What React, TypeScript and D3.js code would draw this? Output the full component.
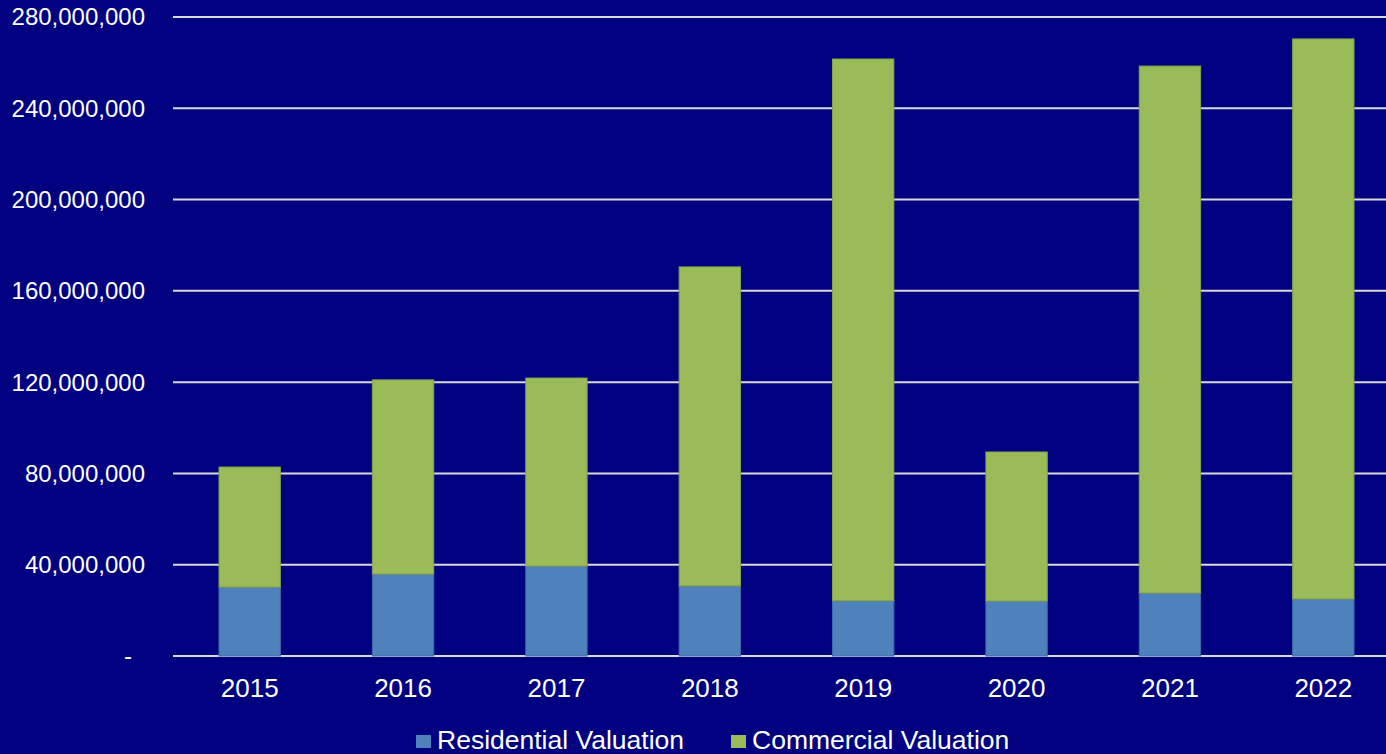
import React from "react";
import * as d3 from "d3";

const years = ["2015", "2016", "2017", "2018", "2019", "2020", "2021", "2022"];
const residential = [30.2, 35.9, 39.4, 30.7, 24.2, 24.1, 27.6, 25.0].map((v) => v * 1e6);
const totals = [82.8, 121.0, 121.8, 170.5, 261.6, 89.4, 258.5, 270.4].map((v) => v * 1e6);
const commercial = totals.map((t, i) => t - residential[i]);
const yTicks = [0, 40e6, 80e6, 120e6, 160e6, 200e6, 240e6, 280e6];
const seriesNames = ["Residential Valuation", "Commercial Valuation"];

const W = 1386;
const H = 754;
const BG = "#000080";
const BLUE = "#4F81BD";
const GREEN = "#9BBB59";
const FONT = "'Liberation Sans', Arial, sans-serif";

export default function App() {
  const x = d3.scaleBand<string>().domain(years).range([173, 1400]).paddingInner(0.6).paddingOuter(0.3);
  const y = d3.scaleLinear().domain([0, 280e6]).range([656, 17]);
  const fmt = d3.format(",");
  const stack = d3.stack<number>().keys(["r", "c"]).value((i, k) => (k === "r" ? residential[i] : commercial[i]));
  const series = stack(years.map((_, i) => i));
  const fills = [BLUE, GREEN];
  const strokes = ["#3F6CA6", "#86A248"];

  return (
    <div style={{ position: "fixed", left: 0, top: 0 }}>
      <svg width={W} height={H} style={{ display: "block" }}>
        <rect x={0} y={0} width={W} height={H} fill={BG} />
        {yTicks.map((t) => (
          <g key={t}>
            <line x1={173} x2={W} y1={y(t)} y2={y(t)} stroke="#D9D9D9" strokeWidth={2} />
            <text
              x={t === 0 ? 132 : 145}
              y={y(t)}
              dy="0.35em"
              textAnchor="end"
              fill="#FFFFFF"
              fontFamily={FONT}
              fontSize={24}
            >
              {t === 0 ? "-" : fmt(t)}
            </text>
          </g>
        ))}
        {series.map((s, si) =>
          s.map((d, i) => (
            <rect
              key={`${si}-${i}`}
              x={x(years[i])!}
              y={y(d[1])}
              width={x.bandwidth()}
              height={y(d[0]) - y(d[1])}
              fill={fills[si]}
              stroke={strokes[si]}
              strokeWidth={1}
            />
          ))
        )}
        {years.map((yr) => (
          <text
            key={yr}
            x={x(yr)! + x.bandwidth() / 2}
            y={697}
            textAnchor="middle"
            fill="#FFFFFF"
            fontFamily={FONT}
            fontSize={26}
          >
            {yr}
          </text>
        ))}
        {seriesNames.map((n, i) => {
          const lx = [416, 731][i];
          return (
            <g key={n}>
              <rect x={lx} y={735} width={15} height={13} fill={fills[i]} />
              <text x={lx + 21} y={749} fill="#FFFFFF" fontFamily={FONT} fontSize={26.5}>
                {n}
              </text>
            </g>
          );
        })}
      </svg>
    </div>
  );
}
